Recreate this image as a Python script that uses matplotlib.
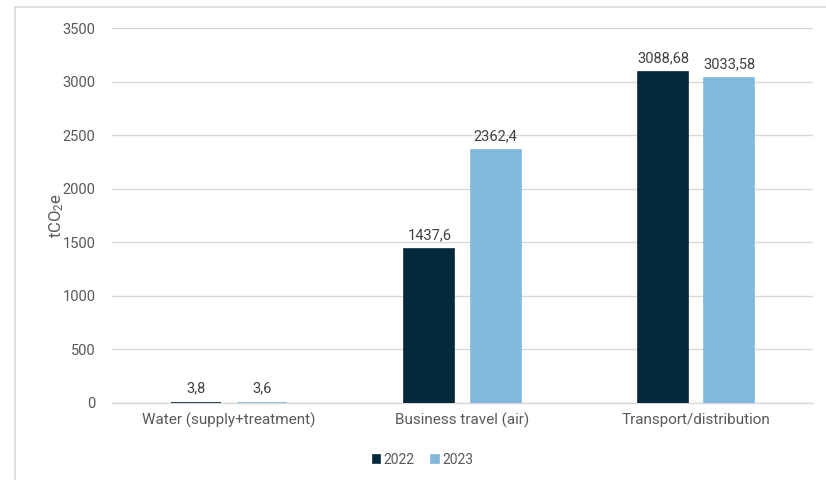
import matplotlib
matplotlib.use("Agg")
import matplotlib.pyplot as plt
from matplotlib.lines import Line2D
import numpy as np

categories = ["Water (supply+treatment)", "Business travel (air)", "Transport/distribution"]
years = ["2022", "2023"]
values_2022 = [3.8, 1437.6, 3088.68]
values_2023 = [3.6, 2362.4, 3033.58]
yticks = [0, 500, 1000, 1500, 2000, 2500, 3000, 3500]

plt.rcParams['font.family'] = ['Roboto', 'DejaVu Sans']
text_col = "#595959"
dark = "#03293a"
light = "#80b9dc"

fig = plt.figure(figsize=(8.26, 4.80), dpi=100)
ax = fig.add_axes([112/826, 1-403/480, (813-112)/826, (403-28)/480])

x = np.arange(len(categories))
w = 0.215
off = 0.142
b1 = ax.bar(x - off, values_2022, w, color=dark, edgecolor=dark, linewidth=1.2, label=years[0], zorder=3)
b2 = ax.bar(x + off, values_2023, w, color=light, edgecolor=light, linewidth=1.2, label=years[1], zorder=3)

for bars, vals in ((b1, values_2022), (b2, values_2023)):
    for rect, v in zip(bars, vals):
        ax.annotate(f"{v:g}".replace('.', ','),
                    (rect.get_x() + rect.get_width()/2, v),
                    xytext=(0, 5), textcoords="offset points",
                    ha="center", va="bottom", fontsize=10.5, color="#404040")

ax.set_xlim(-0.5, 2.5)
ax.set_ylim(0, 3500)
ax.set_yticks(yticks)
ax.set_yticklabels([str(t) for t in yticks])
ax.set_xticks(x)
ax.set_xticklabels(categories)
ax.tick_params(axis='both', length=0, labelcolor=text_col)
ax.tick_params(axis='y', pad=12, labelsize=10.5)
ax.tick_params(axis='x', pad=7, labelsize=11)
ax.grid(axis='y', color="#d9d9d9", linewidth=1, zorder=0)
for s in ["top", "right", "left"]:
    ax.spines[s].set_visible(False)
ax.spines["bottom"].set_color("#d9d9d9")
ax.spines["bottom"].set_linewidth(1)

ax.set_ylabel(r"tCO$\mathregular{_2}$e", fontsize=12, color=text_col, va="center")
ax.yaxis.set_label_coords((57-112)/701, 0.5)

leg = fig.legend(handles=[b1, b2], labels=years, loc="center", bbox_to_anchor=(423/826, 1-460/480),
                 ncol=2, frameon=False, fontsize=10, labelcolor=text_col,
                 handlelength=0.55, handleheight=0.55, handletextpad=0.25, columnspacing=1.2)

# outer border (top and left)
fig.add_artist(Line2D([15/826, 1], [1-7/480, 1-7/480], transform=fig.transFigure, color="#d9d9d9", lw=1.2))
fig.add_artist(Line2D([15/826, 15/826], [0, 1-7/480], transform=fig.transFigure, color="#d9d9d9", lw=1.2))

fig.savefig("out.png", dpi=100)
